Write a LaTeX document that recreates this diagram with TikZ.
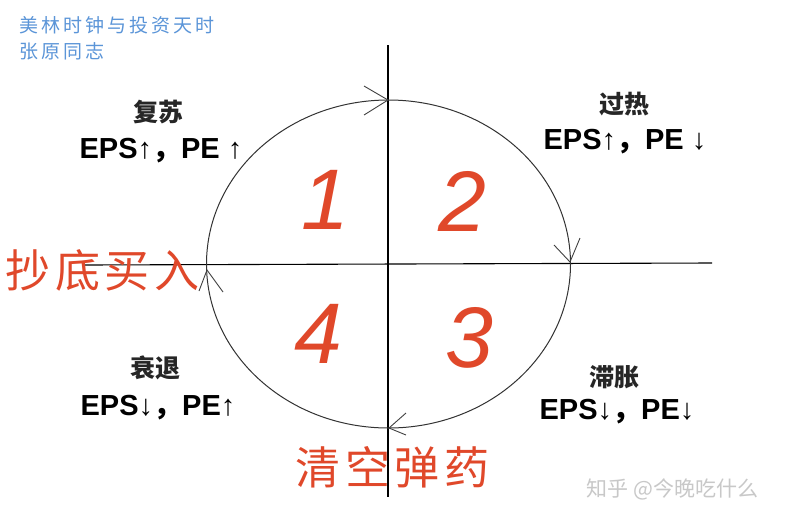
\documentclass[tikz,border=0pt]{standalone}
\usepackage{fontspec}
\setmainfont{Liberation Sans}
\newfontfamily\cjk{Noto Sans CJK SC}
\newfontfamily\cjkwide[LetterSpace=10]{Noto Sans CJK SC}
\newfontfamily\cjknote[LetterSpace=16]{Noto Sans CJK SC}
\definecolor{hand}{HTML}{E0482A}
\definecolor{note}{HTML}{5B95D8}
\definecolor{wm}{HTML}{C8C8C8}
\tikzset{
  axis/.style={black, line width=1.1pt},
  ring/.style={black!80, line width=1pt},
  tipline/.style={black!75, line width=0.9pt},
  phase/.style={font=\cjk\bfseries\fontsize{25}{27}\selectfont, text=black!85},
  metric/.style={font=\bfseries\fontsize{29}{31}\selectfont},
  digit/.style={font=\fontsize{86}{90}\selectfont\itshape, text=hand},
  redtext/.style={font=\cjkwide\fontsize{45}{48}\selectfont, text=hand},
}
\begin{document}
\begin{tikzpicture}[x=1pt,y=-1pt]
\useasboundingbox[fill=white] (0,0) rectangle (800,520);
% axes
\coordinate (vt) at (388,45);
\coordinate (vb) at (388,497);
\coordinate (hl) at (85,265);
\coordinate (hr) at (712,263);
\draw[axis] (vt) -- (vb);
\draw[axis] (hl) -- (hr);
% cycle ellipse
\coordinate (c) at (388.5,264);
\draw[ring] (c) ellipse [x radius=182, y radius=164];
% arrow tips on the cycle
\coordinate (t1) at (388,100);
\draw[tipline] (364,86) -- (t1) -- (364,115);
\coordinate (t2) at (570,262);
\draw[tipline] (554,245) -- (t2) -- (580,238);
\coordinate (t3) at (389,428);
\draw[tipline] (406,413) -- (t3) -- (406,435);
\coordinate (t4) at (207,270);
\draw[tipline] (199,291) -- (t4) -- (223,292);
% header note
\node[anchor=west, text=note, font=\cjknote\fontsize{19}{21}\selectfont] (n1) at (16,25) {美林时钟与投资天时};
\node[anchor=west, text=note, font=\cjknote\fontsize{19}{21}\selectfont] (n2) at (16,51) {张原同志};
% phase labels
\node[phase] (p1) at (158,112) {复苏};
\node[metric] (m1) at (161,151) {EPS↑{\cjk ，}PE ↑};
\node[phase] (p2) at (624,104) {过热};
\node[metric] (m2) at (625,142) {EPS↑{\cjk ，}PE ↓};
\node[phase] (p3) at (155,368) {衰退};
\node[metric] (m3) at (158,408) {EPS↓{\cjk ，}PE↑};
\node[phase] (p4) at (614,377) {滞胀};
\node[metric] (m4) at (617,412) {EPS↓{\cjk ，}PE↓};
% quadrant numbers
\node[digit] (d1) at (325,200) {1};
\node[digit] (d2) at (462,201) {2};
\node[digit] (d3) at (469,338) {3};
\node[digit] (d4) at (318,334) {4};
% red annotations
\node[redtext, anchor=west] (buy) at (2,270) {抄底买入};
\node[redtext, anchor=west] (sell) at (292,467) {清空弹药};
% watermark
\node[anchor=west, text=wm, font=\cjk\fontsize{21}{23}\selectfont] (wmk) at (583,489) {知乎 @今晚吃什么};
\end{tikzpicture}
\end{document}
